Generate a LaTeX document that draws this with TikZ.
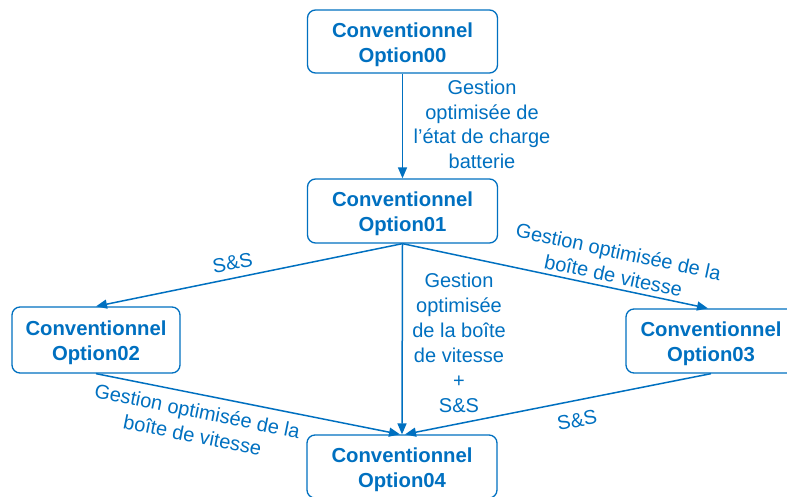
\documentclass[tikz,border=0pt]{standalone}
\usepackage{fontspec}
\setmainfont{Liberation Sans}
\usetikzlibrary{arrows.meta}
\definecolor{blu}{RGB}{0,112,192}
\begin{document}
\begin{tikzpicture}[x=1pt,y=-1pt,
  box/.style={draw=blu, line width=1.3pt, rounded corners=8pt, inner sep=0pt},
  boxtext/.style={text=blu, font=\fontsize{20.3}{25}\selectfont\bfseries, align=center, inner sep=0pt},
  lbl/.style={text=blu, font=\fontsize{20}{24.5}\selectfont, align=center, inner sep=0pt},
  lblc/.style={text=blu, font=\fontsize{20}{25}\selectfont, align=center, inner sep=0pt},
  arr/.style={draw=blu, line width=1.5pt, -{Triangle[length=11pt,width=9pt]}}]
\useasboundingbox (0,0) rectangle (787,497);
% boxes
\node[box, minimum width=190pt, minimum height=63pt] (o0) at (402.5,41.5) {};
\node[box, minimum width=190pt, minimum height=64pt] (o1) at (402.5,211) {};
\node[box, minimum width=168pt, minimum height=66pt] (o2) at (96,340) {};
\node[box, minimum width=170pt, minimum height=64pt] (o3) at (711,341) {};
\node[box, minimum width=190pt, minimum height=63pt] (o4) at (402,466.5) {};
% box texts
\node[boxtext] (t0) at ([yshift=-3pt]o0.center) {Conventionnel\\Option00};
\node[boxtext] (t1) at ([yshift=-3pt]o1.center) {Conventionnel\\Option01};
\node[boxtext] (t2) at ([yshift=-3pt]o2.center) {Conventionnel\\Option02};
\node[boxtext] (t3) at ([yshift=-3pt]o3.center) {Conventionnel\\Option03};
\node[boxtext] (t4) at ([yshift=-3pt]o4.center) {Conventionnel\\Option04};
% connectors
\draw[arr] (o0.south) -- (o1.north);
\draw[arr] (o1.south) -- (o2.north);
\draw[arr] (o1.south) -- ([xshift=-3pt]o3.north);
\draw[arr] (o1.south) -- (o4.north);
\draw[arr] (o2.south) -- ([xshift=-2pt]o4.north);
\draw[arr] (o3.south) -- ([xshift=3pt]o4.north);
% labels
\node[lbl] (l0) at (482,124.5) {Gestion\\optimisée de\\l’état de charge\\batterie};
\node[lblc] (l1) at (459,343.2) {Gestion\\optimisée\\de la boîte\\de vitesse\\+\\S\&S};
\node[lbl, rotate=10] (l2) at (232.5,263) {S\&S};
\node[lbl, rotate=-12] (l3) at (616,263.5) {Gestion optimisée de la\\boîte de vitesse};
\node[lbl, rotate=-11.5] (l4) at (195,423) {Gestion optimisée de la\\boîte de vitesse};
\node[lbl, rotate=11] (l5) at (577,420) {S\&S};
\end{tikzpicture}
\end{document}
